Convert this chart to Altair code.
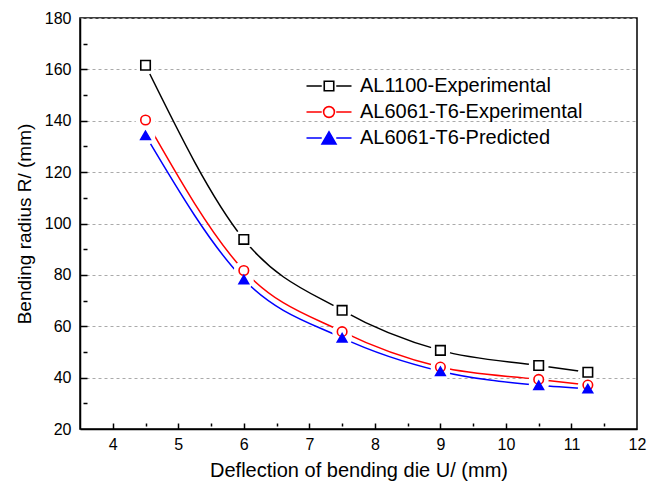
import altair as alt
import pandas as pd

deflection = [4.5, 6, 7.5, 9, 10.5, 11.25]
al1100_exp = [161.6, 93.8, 66.2, 50.6, 44.7, 42.1]
al6061_exp = [140.3, 81.7, 57.9, 44.1, 39.3, 37.1]
al6061_pred = [134.3, 78.2, 55.5, 42.5, 37.0, 35.7]

series = ["AL1100-Experimental", "AL6061-T6-Experimental", "AL6061-T6-Predicted"]
stroke_colors = ["#000000", "#ff0000", "#0000ff"]
fill_colors = ["#ffffff", "#ffffff", "#0000ff"]
marker_shapes = ["square", "circle", "triangle-up"]
marker_sizes = [90, 92, 196]
legend_paths = [
    "M-4.5,0H-1.45M1.45,0H4.5M-0.95,-0.95H0.95V0.95H-0.95Z",
    "M-4.5,0H-1.45M1.45,0H4.5M1.08,0A1.08,1.08,0,1,1,-1.08,0A1.08,1.08,0,1,1,1.08,0Z",
    "M-4.5,0H-1.45M1.45,0H4.5M0,-1.21L1.4,1.21L-1.4,1.21Z",
]

x_ticks = [4, 5, 6, 7, 8, 9, 10, 11, 12]
x_all_ticks = [4, 4.5, 5, 5.5, 6, 6.5, 7, 7.5, 8, 8.5, 9, 9.5, 10, 10.5, 11, 11.5]
y_ticks = [20, 40, 60, 80, 100, 120, 140, 160, 180]
y_all_ticks = [30, 40, 50, 60, 70, 80, 90, 100, 110, 120, 130, 140, 150, 160, 170]

rows = []
for name, vals in zip(series, [al1100_exp, al6061_exp, al6061_pred]):
    for xv, yv in zip(deflection, vals):
        rows.append({"U": xv, "R": yv, "series": name})
df = pd.DataFrame(rows)

FONT = "Liberation Sans"
xscale = alt.Scale(domain=[3.5, 12], nice=False, zero=False)
yscale = alt.Scale(domain=[20, 180], nice=False, zero=False)

stroke_scale = alt.Scale(domain=series, range=stroke_colors)
fill_scale = alt.Scale(domain=series, range=fill_colors)

lines = alt.Chart(df).mark_line(interpolate="monotone", strokeWidth=1.5).encode(
    x=alt.X("U:Q", scale=xscale, axis=alt.Axis(
        orient="bottom", values=x_ticks, ticks=False, grid=False,
        title="Deflection of bending die U/ (mm)", titleFont=FONT, titleFontSize=20,
        titleFontWeight="normal", titleColor="black", titlePadding=8,
        labelFont=FONT, labelFontSize=16, labelColor="black", labelPadding=7,
        domainColor="black", domainWidth=1.5, labelFlush=False)),
    y=alt.Y("R:Q", scale=yscale, axis=alt.Axis(
        orient="left", values=y_ticks, ticks=False, grid=True,
        gridDash=[3, 3], gridColor="#aaaaaa", gridWidth=1,
        title="Bending radius R/ (mm)", titleFont=FONT, titleFontSize=19,
        titleFontWeight="normal", titleColor="black", titlePadding=10,
        labelFont=FONT, labelFontSize=16, labelColor="black", labelPadding=9,
        domainColor="black", domainWidth=1.5, labelFlush=False)),
    stroke=alt.Stroke("series:N", scale=stroke_scale, legend=None),
    detail="series:N",
)

halo = alt.Chart(df).mark_circle(size=400, color="#ffffff", opacity=1).encode(
    x=alt.X("U:Q", scale=xscale, axis=None),
    y=alt.Y("R:Q", scale=yscale, axis=None),
)

markers = alt.Chart(df).mark_point(strokeWidth=1.6, opacity=1).encode(
    x=alt.X("U:Q", scale=xscale, axis=None),
    y=alt.Y("R:Q", scale=yscale, axis=None),
    shape=alt.Shape("series:N", scale=alt.Scale(domain=series, range=marker_shapes), legend=None),
    stroke=alt.Stroke("series:N", scale=stroke_scale, legend=None),
    fill=alt.Fill("series:N", scale=fill_scale, legend=None),
    size=alt.Size("series:N", scale=alt.Scale(domain=series, range=marker_sizes), legend=None),
)

ticks = alt.Chart(df).mark_point(opacity=0).encode(
    x=alt.X("U:Q", scale=xscale, axis=alt.Axis(
        orient="bottom", values=x_all_ticks, labels=False, domain=False, grid=False,
        title=None, offset=-6, tickColor="black", tickWidth=1.5,
        tickSize={"condition": {"test": "datum.value % 1 !== 0", "value": 3}, "value": 6})),
    y=alt.Y("R:Q", scale=yscale, axis=alt.Axis(
        orient="left", values=y_all_ticks, labels=False, domain=False, grid=False,
        title=None, offset=-7, tickColor="black", tickWidth=1.5,
        tickSize={"condition": {"test": "datum.value % 20 !== 0", "value": 4}, "value": 7})),
).transform_filter("false")

legend_layer = alt.Chart(df).mark_point(strokeWidth=1.6, size=100, opacity=1).encode(
    x=alt.X("U:Q", scale=xscale, axis=None),
    y=alt.Y("R:Q", scale=yscale, axis=None),
    shape=alt.Shape("series:N", scale=alt.Scale(domain=series, range=legend_paths),
                    legend=alt.Legend(title=None, orient="none", legendX=255, legendY=58,
                                      labelFont=FONT, labelFontSize=20, labelColor="black",
                                      labelOffset=21, labelLimit=0, symbolSize=100,
                                      symbolStrokeWidth=1.6,
                                      rowPadding=6, padding=0, symbolOffset=-16)),
    stroke=alt.Stroke("series:N", scale=stroke_scale, legend=alt.Legend(title=None)),
    fill=alt.Fill("series:N", scale=fill_scale, legend=alt.Legend(title=None)),
).transform_filter("false")

chart = alt.layer(lines, halo, markers, ticks, legend_layer).resolve_scale(
    shape="independent", stroke="independent", fill="independent", size="independent"
).resolve_axis(x="independent", y="independent").properties(
    width=557, height=411,
    autosize=alt.AutoSizeParams(type="none"),
    padding={"left": 80, "top": 18, "right": 19, "bottom": 61},
    background="white",
).configure_view(stroke="black", strokeWidth=1.5)

chart.save("out.html", embed_options={"renderer": "svg", "actions": False})
